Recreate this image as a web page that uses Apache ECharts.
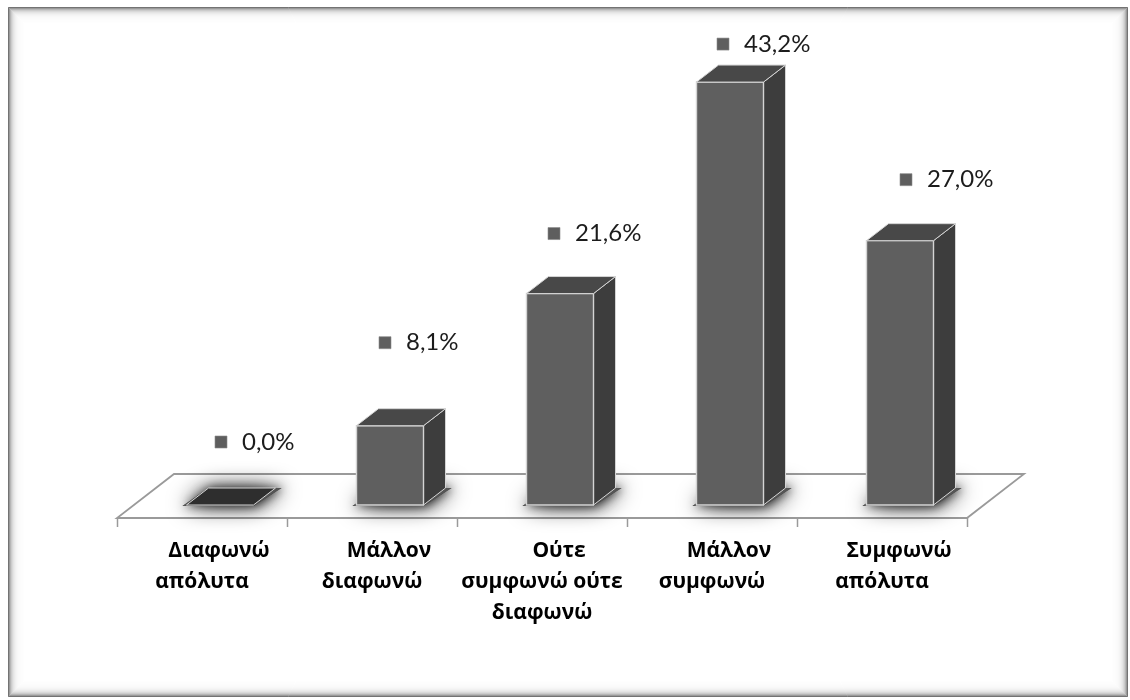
<!DOCTYPE html>
<html>
<head>
<meta charset="utf-8">
<script src="https://cdn.jsdelivr.net/npm/echarts@6/dist/echarts.min.js"></script>
<style>
  html, body { margin: 0; padding: 0; background: #ffffff; }
  #chart { width: 1130px; height: 700px; }
</style>
</head>
<body>
<div id="chart"></div>
<script>
// Answer categories (line breaks as they wrap under the floor)
const categories = [
  'Διαφωνώ\nαπόλυτα',
  'Μάλλον\nδιαφωνώ',
  'Ούτε\nσυμφωνώ ούτε\nδιαφωνώ',
  'Μάλλον\nσυμφωνώ',
  'Συμφωνώ\nαπόλυτα'
];
// Share of respondents, percent
const values = [0.0, 8.1, 21.6, 43.2, 27.0];

// Value-label placement per bar (px): horizontal nudge, lift above the bar's top
const labelDx = [-5, -11, -12, -13, 0];
const labelLift = [63, 83, 60, 38, 61];

// Box geometry (px)
const BAR_W = 67;        // front face width
const SHIFT = 18;        // front face sits this far right of the category centre
const DX = 22, DY = -17; // bar depth
const FLOOR_DROP = 13;   // floor front edge below the bars' base line
const FLOOR_DX = 57, FLOOR_DY = -44;
const TICK_LEN = 9;

const VALUE_FONT = 'Lato, "Open Sans", sans-serif';
const CAT_FONT = '"Open Sans", "Noto Sans", sans-serif';

function fmtPct(v) {
  return v.toFixed(1).replace('.', ',') + '%';
}

// Floor plane under the bars, with category boundary ticks on its front edge
function renderFloor(params, api) {
  const n = categories.length;
  const band = api.size([1, 0])[0];
  const first = api.coord([0, 0]);
  const last = api.coord([n - 1, 0]);
  const y = first[1] + FLOOR_DROP;
  const xl = first[0] - band / 2;
  const xr = last[0] + band / 2;
  const children = [{
    type: 'polygon',
    shape: { points: [[xl, y], [xr, y], [xr + FLOOR_DX, y + FLOOR_DY], [xl + FLOOR_DX, y + FLOOR_DY]] },
    style: { fill: '#ffffff', stroke: '#9a9a9a', lineWidth: 1.8 }
  }];
  for (let k = 0; k <= n; k++) {
    const tx = Math.round(xl + k * band) + 0.5;
    children.push({
      type: 'line',
      shape: { x1: tx, y1: y, x2: tx, y2: y + TICK_LEN },
      style: { stroke: '#9a9a9a', lineWidth: 1.5 }
    });
  }
  return { type: 'group', children: children, silent: true };
}

// One 3D box per category plus its value label
function renderBox(params, api) {
  const i = api.value(0);
  const v = api.value(1);
  const base = api.coord([i, 0]);
  const top = api.coord([i, v]);
  const cx = base[0] + SHIFT;
  const xl = cx - BAR_W / 2, xr = cx + BAR_W / 2;
  const yb = base[1], yt = top[1];
  const edge = '#d4d4d4';
  const children = [];
  const foot = [[xl - 4, yb + 1], [xr, yb + 1], [xr + DX + 6, yb + DY], [xl + DX, yb + DY]];

  // soft cast shadow around the footprint
  children.push({
    type: 'polygon',
    shape: { points: foot },
    style: { fill: '#555555', shadowBlur: 22, shadowColor: 'rgba(0,0,0,0.95)', shadowOffsetX: 2, shadowOffsetY: 0 }
  });
  children.push({
    type: 'polygon',
    shape: { points: foot },
    style: { fill: '#555555', shadowBlur: 10, shadowColor: 'rgba(0,0,0,0.7)', shadowOffsetX: 2, shadowOffsetY: 0 }
  });

  if (yb - yt > 0.5) {
    // right side
    children.push({
      type: 'polygon',
      shape: { points: [[xr, yt], [xr + DX, yt + DY], [xr + DX, yb + DY], [xr, yb]] },
      style: { fill: '#3d3d3d', stroke: edge, lineWidth: 1 }
    });
    // front
    children.push({
      type: 'rect',
      shape: { x: xl, y: yt, width: BAR_W, height: yb - yt },
      style: { fill: '#5f5f5f', stroke: edge, lineWidth: 1.4 }
    });
  }
  // top
  children.push({
    type: 'polygon',
    shape: { points: [[xl, yt], [xl + DX, yt + DY], [xr + DX, yt + DY], [xr, yt]] },
    style: { fill: v > 0 ? '#484848' : '#2e2e2e', stroke: edge, lineWidth: 1 }
  });

  // value label: small square marker + text
  const ly = yt - labelLift[i];
  const lx = cx + labelDx[i];
  children.push({
    type: 'rect',
    shape: { x: lx, y: ly - 6, width: 12, height: 12 },
    style: { fill: '#5e5e5e', stroke: '#8a8a8a', lineWidth: 0.6 }
  });
  children.push({
    type: 'text',
    x: lx + 27,
    y: ly,
    style: {
      text: fmtPct(v),
      fill: '#1c1c1c',
      font: '24px ' + VALUE_FONT,
      align: 'left',
      verticalAlign: 'middle'
    }
  });

  return { type: 'group', children: children };
}

// Shaded frame round the whole chart area
const frame = [];
for (let k = 0; k < 16; k++) {
  const a = 0.55 * Math.pow(0.72, k);
  frame.push({
    type: 'rect',
    silent: true,
    shape: { x: 8.5 + k, y: 7.5 + k, width: 1119 - 2 * k, height: 689 - 2 * k },
    style: { fill: null, stroke: 'rgba(0,0,0,' + a.toFixed(3) + ')', lineWidth: 1 }
  });
}

const chart = echarts.init(document.getElementById('chart'), null, { renderer: 'canvas' });

const catText = { fontFamily: CAT_FONT, fontSize: 21, fontWeight: 'bold', color: '#000000', lineHeight: 31 };

chart.setOption({
  backgroundColor: '#ffffff',
  animation: false,
  graphic: frame,
  grid: {
    left: 117, right: 163, top: 15.5, bottom: 195,
    containLabel: false,
    outerBoundsMode: 'none'
  },
  xAxis: {
    type: 'category',
    data: categories,
    offset: FLOOR_DROP,
    axisLine: { show: false },
    axisTick: { show: false },
    axisLabel: Object.assign({
      interval: 0,
      margin: 18,
      formatter: function (val) {
        return val.split('\n').map(function (line, j) {
          return (j === 0 ? '{first|' : '{rest|') + line + '}';
        }).join('\n');
      },
      rich: {
        first: Object.assign({ padding: [0, 0, 0, 34] }, catText),
        rest: Object.assign({}, catText)
      }
    }, catText)
  },
  yAxis: {
    type: 'value',
    min: 0,
    max: 50,
    show: false
  },
  series: [
    {
      type: 'custom',
      renderItem: renderFloor,
      data: [[0, 0]],
      encode: { x: 0, y: 1 },
      silent: true,
      z: 1
    },
    {
      type: 'custom',
      renderItem: renderBox,
      data: values.map(function (v, i) { return [i, v]; }),
      encode: { x: 0, y: 1 },
      z: 2
    }
  ]
});
</script>
</body>
</html>
